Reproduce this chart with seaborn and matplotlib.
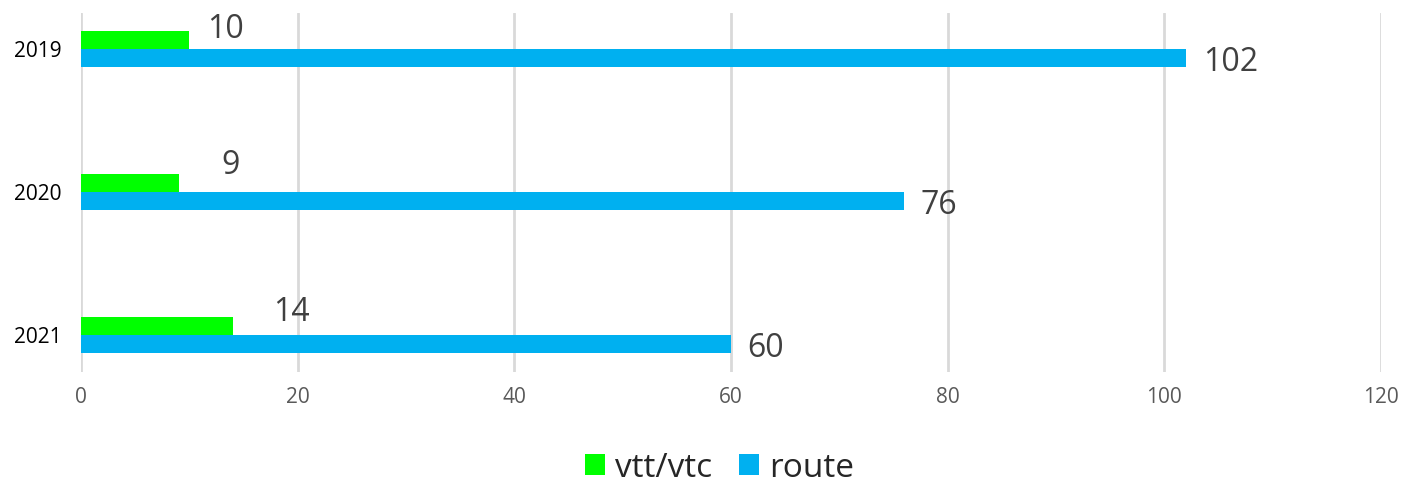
import pandas as pd
import seaborn as sns
import matplotlib.pyplot as plt

# data
years = ["2019", "2020", "2021"]
vtt_vtc = [10, 9, 14]
route = [102, 76, 60]
series_names = ["vtt/vtc", "route"]
colors = ["#00FF00", "#00B0F0"]

df = pd.DataFrame({
    "year": years * 2,
    "value": vtt_vtc + route,
    "serie": [series_names[0]] * 3 + [series_names[1]] * 3,
})

sns.set_style("white")
plt.rcParams["font.family"] = ["Open Sans", "DejaVu Sans"]

fig = plt.figure(figsize=(14.19, 4.84), dpi=100)
ax = fig.add_axes([0.0571, 0.2314, 0.9161, 0.7417])

sns.barplot(data=df, x="value", y="year", hue="serie", hue_order=series_names,
            palette=colors, orient="h", width=0.252, saturation=1,
            linewidth=0, ax=ax, legend=True)

ax.set_xlim(0, 120)
ax.set_xticks(range(0, 121, 20))
ax.set_ylim(2.259, -0.252)
ax.set_xlabel("")
ax.set_ylabel("")
for s in ax.spines.values():
    s.set_visible(False)
ax.grid(axis="x", color="#d9d9d9", linewidth=2)
ax.grid(axis="y", visible=False)
ax.set_axisbelow(True)
ax.tick_params(axis="x", labelsize=15, labelcolor="#595959", length=0, pad=11)
ax.tick_params(axis="y", labelsize=15, labelcolor="black", length=0, pad=14)

# value labels (green ones were nudged by hand in the original)
green_off = [(13, 7.5), (31, 12.5), (29, 9.5)]
for i, bar in enumerate(ax.containers[0]):
    y = bar.get_y() + bar.get_height() / 2
    ax.annotate(f"{vtt_vtc[i]}", xy=(bar.get_width(), y), xytext=green_off[i],
                textcoords="offset points", ha="left", va="center",
                fontsize=23, color="#404040")
for i, bar in enumerate(ax.containers[1]):
    y = bar.get_y() + bar.get_height() / 2
    ax.annotate(f"{route[i]}", xy=(bar.get_width(), y), xytext=(12, -3),
                textcoords="offset points", ha="left", va="center",
                fontsize=23, color="#404040")

handles, labels = ax.get_legend_handles_labels()
ax.legend_.remove()
fig.legend(handles, labels, loc="center", bbox_to_anchor=(0.507, 0.033),
           ncol=2, frameon=False, fontsize=24, handlelength=0.6,
           handleheight=0.6, handletextpad=0.3, columnspacing=0.8)

fig.savefig("out.png", dpi=100)
